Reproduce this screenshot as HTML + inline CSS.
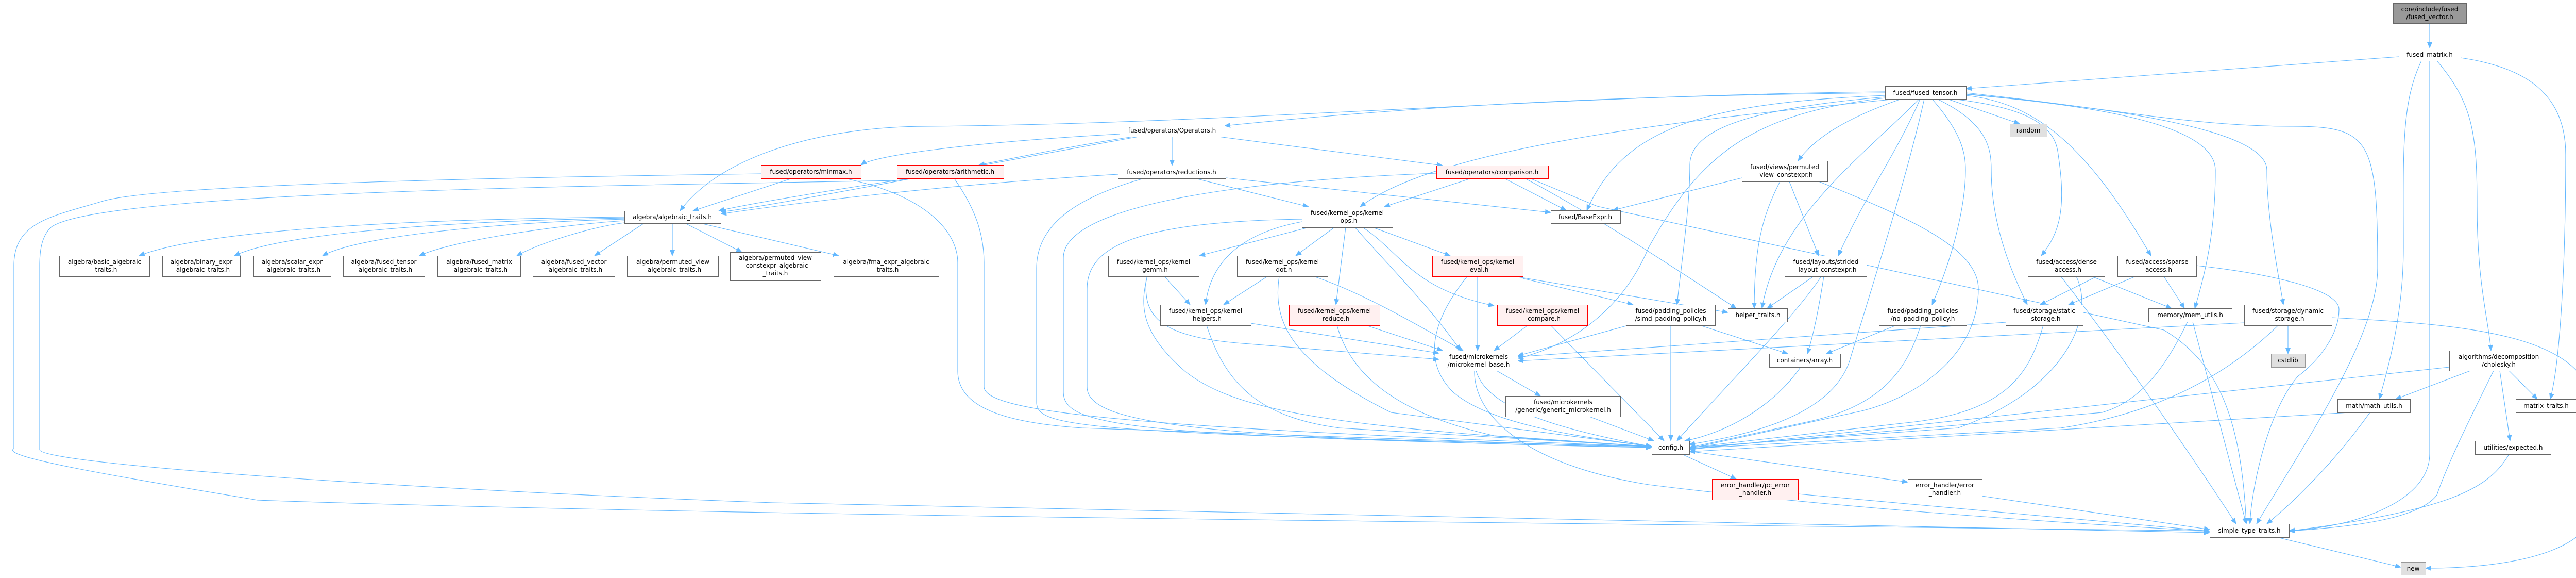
<!DOCTYPE html>
<html><head><meta charset="utf-8"><style>
html,body{margin:0;padding:0;background:#fff;}
svg{display:block}
text{font-family:"DejaVu Sans","Liberation Sans",sans-serif;font-size:12px;fill:#000;text-anchor:middle}
.n rect{fill:#fff;stroke:#666;stroke-width:1}
.r rect{fill:#fff0f0;stroke:#f00}
.g rect{fill:#e0e0e0;stroke:#999}
.e path{fill:none;stroke:#63b8ff;stroke-width:1.1;marker-end:url(#a)}
</style></head><body>
<svg width="5044" height="1121" viewBox="0 0 5044 1121" xmlns="http://www.w3.org/2000/svg">
<defs><marker id="a" markerWidth="12" markerHeight="10" refX="11" refY="5" orient="auto" markerUnits="userSpaceOnUse"><path d="M0,0 L12,5 L0,10 z" fill="#63b8ff"/></marker></defs>
<g class="e">
<path d="M1212 421 C800 425 400 445 270 496"/>
<path d="M1212 423 C900 428 550 450 455 496"/>
<path d="M1212 425 C1000 430 700 455 626 496"/>
<path d="M1212 428 C1100 435 880 465 814 496"/>
<path d="M1212 432 C1150 440 1050 470 1003 496"/>
<path d="M1250 433 L1154 496"/>
<path d="M1305 433 L1305 496"/>
<path d="M1330 433 L1440 489"/>
<path d="M1360 433 L1628 496"/>
<path d="M4716 45 L4716 93"/>
<path d="M4656 110 L3816 172"/>
<path d="M4716 118 L4716 880 C4716 980 4550 1025 4443 1029"/>
<path d="M4700 118 C4660 200 4665 300 4665 480 C4665 600 4640 700 4618 774"/>
<path d="M4730 118 C4800 200 4808 260 4808 400 C4808 550 4830 620 4835 680"/>
<path d="M4776 112 C4900 130 4980 180 4980 300 C4980 500 4970 700 4950 774"/>
<path d="M3659 180 C3200 185 2800 200 2377 244"/>
<path d="M3659 178 C3000 185 2400 240 1800 245 C1600 245 1400 300 1320 409"/>
<path d="M3680 192 C3300 230 2800 280 2640 401"/>
<path d="M3659 185 C3300 200 3150 250 3080 408"/>
<path d="M3780 192 L3920 240"/>
<path d="M3690 192 C3580 230 3520 270 3490 312"/>
<path d="M3727 192 C3680 300 3620 380 3568 496"/>
<path d="M3725 192 C3620 300 3450 420 3420 598"/>
<path d="M3659 188 C3400 210 3280 250 3280 320 C3280 400 3265 500 3255 591"/>
<path d="M3659 190 C3400 220 3300 300 3200 480 C3150 600 3050 670 2946 695"/>
<path d="M3735 192 C3700 350 3620 600 3590 700 C3550 820 3350 850 3279 862"/>
<path d="M3750 192 C3810 260 3815 300 3815 330 C3815 400 3790 500 3750 591"/>
<path d="M3760 192 C3860 240 3865 290 3865 330 C3865 430 3900 520 3935 591"/>
<path d="M3790 192 C3950 210 3990 250 3995 300 C4010 400 4000 450 3962 496"/>
<path d="M3816 185 C3950 200 4050 280 4175 496"/>
<path d="M3816 183 C4000 200 4300 230 4300 330 C4300 420 4290 500 4260 598"/>
<path d="M3816 182 C4100 210 4400 250 4400 330 C4400 420 4420 520 4432 591"/>
<path d="M3816 180 C4100 210 4250 245 4450 245 C4600 245 4615 270 4615 520 C4615 650 4480 850 4380 1016"/>
<path d="M1537 346 L1345 409"/>
<path d="M1640 346 C1800 380 1859 450 1859 510 L1859 720 C1859 790 1950 820 2100 830 L3206 868"/>
<path d="M1477 337 C900 345 300 360 200 390 C100 420 27 430 27 515 L27 870 C0 885 200 920 500 970 C1500 1005 3500 1018 4289 1030"/>
<path d="M1770 346 C1700 355 1450 395 1395 409"/>
<path d="M1852 346 C1890 400 1910 450 1910 510 L1910 750 C1910 800 2200 830 3206 866"/>
<path d="M1741 350 C1200 360 200 370 100 440 C77 460 77 500 77 515 L77 872 C77 900 800 950 1500 975 L4289 1033"/>
<path d="M2173 260 C1900 275 1700 300 1671 320"/>
<path d="M2200 265 C2100 280 2000 300 1900 320"/>
<path d="M2210 265 C1900 320 1500 400 1399 411"/>
<path d="M2275 265 L2275 321"/>
<path d="M2365 265 L2800 321"/>
<path d="M2170 338 C1800 360 1500 400 1399 415"/>
<path d="M2320 346 L2540 401"/>
<path d="M2380 345 L3010 412"/>
<path d="M2220 346 C2100 380 2012 430 2012 520 L2012 780 C2012 830 2100 840 3206 866"/>
<path d="M2855 346 L2687 401"/>
<path d="M2920 346 L3040 408"/>
<path d="M2788 336 C2400 350 2064 400 2064 500 L2064 760 C2064 830 2200 845 3206 868"/>
<path d="M2960 346 C3100 420 3250 520 3370 598"/>
<path d="M2970 346 L3100 400 L4200 640 C4300 700 4350 800 4360 1016"/>
<path d="M2540 441 L2328 496"/>
<path d="M2590 441 L2515 496"/>
<path d="M2527 430 C2420 450 2350 500 2340 591"/>
<path d="M2612 441 L2593 591"/>
<path d="M2665 441 L2815 496"/>
<path d="M2645 441 C2720 490 2740 560 2900 593"/>
<path d="M2630 441 C2700 520 2780 600 2835 680"/>
<path d="M2527 425 C2200 430 2110 480 2110 560 L2110 750 C2110 820 2300 850 3206 868"/>
<path d="M2260 536 L2310 591"/>
<path d="M2225 536 C2220 600 2230 650 2400 665 L2793 697"/>
<path d="M2227 536 C2210 600 2220 650 2300 720 C2400 800 2600 830 3206 866"/>
<path d="M2460 536 L2375 591"/>
<path d="M2550 536 C2650 570 2750 630 2840 680"/>
<path d="M2483 536 C2470 620 2500 700 2700 800 L3206 866"/>
<path d="M2428 627 L2793 685"/>
<path d="M2342 631 C2380 750 2450 810 2600 830 L3206 866"/>
<path d="M2652 631 L2800 680"/>
<path d="M2595 631 C2620 720 2700 800 2900 845 L3206 866"/>
<path d="M2868 536 L2868 680"/>
<path d="M2848 536 C2780 620 2760 700 2820 760 C2900 830 3100 850 3206 866"/>
<path d="M2940 536 L3354 606"/>
<path d="M2956 540 L3170 591"/>
<path d="M2965 631 L2900 680"/>
<path d="M3010 631 L3230 855"/>
<path d="M2905 719 L2990 768"/>
<path d="M2865 719 C2880 770 2950 820 3206 866"/>
<path d="M2862 719 C2860 800 2950 900 3200 940 C3600 990 4100 1020 4289 1030"/>
<path d="M3085 808 L3210 855"/>
<path d="M3381 345 L3130 408"/>
<path d="M3455 352 C3420 420 3405 480 3405 598"/>
<path d="M3473 352 L3530 496"/>
<path d="M3530 352 C3700 420 3840 480 3840 560 C3840 700 3700 780 3600 800 L3279 870"/>
<path d="M3520 536 L3430 598"/>
<path d="M3540 536 C3530 600 3520 650 3508 686"/>
<path d="M3535 536 C3480 620 3320 780 3255 855"/>
<path d="M3300 631 L3470 686"/>
<path d="M3243 631 L3243 855"/>
<path d="M3160 631 L2946 690"/>
<path d="M3680 631 L3545 686"/>
<path d="M3728 631 C3700 720 3650 790 3500 820 L3279 868"/>
<path d="M3966 631 C3940 720 3900 800 3700 820 L3279 868"/>
<path d="M3893 625 L2946 692"/>
<path d="M4070 536 L3960 591"/>
<path d="M4060 536 L4215 598"/>
<path d="M4000 536 C4050 600 4200 800 4340 1016"/>
<path d="M4030 536 C4070 620 4000 760 3800 830 L3279 868"/>
<path d="M4145 536 L4015 591"/>
<path d="M4200 536 L4240 598"/>
<path d="M4263 515 C4400 530 4540 560 4540 600 C4540 650 4500 700 4460 730 C4400 800 4370 950 4367 1016"/>
<path d="M4246 624 C4200 720 4150 780 4080 800 L3279 870"/>
<path d="M4256 624 L4360 1016"/>
<path d="M4422 631 C4330 720 4200 800 4000 830 L3279 870"/>
<path d="M4356 626 L2946 700"/>
<path d="M4441 631 L4441 686"/>
<path d="M4526 616 C4800 630 5030 650 5035 800 L5035 980 C5035 1060 4900 1102 4708 1102"/>
<path d="M3495 712 C3440 790 3350 840 3270 855"/>
<path d="M3265 881 L3370 929"/>
<path d="M3279 875 L3703 935"/>
<path d="M3490 958 L4289 1030"/>
<path d="M3847 962 L4289 1027"/>
<path d="M4795 719 L4650 774"/>
<path d="M4870 719 L4925 774"/>
<path d="M4852 719 L4872 855"/>
<path d="M4840 719 C4800 800 4750 900 4730 960 C4700 1000 4600 1020 4443 1030"/>
<path d="M4754 712 L3279 872"/>
<path d="M4560 800 L3279 876"/>
<path d="M4600 800 C4550 870 4480 950 4400 1016"/>
<path d="M4870 881 C4830 950 4750 990 4443 1030"/>
<path d="M4420 1042 L4660 1100"/>
</g>

<g class="n">
<g><rect x="4645.5" y="6.5" width="142" height="39" style="fill:#999;stroke:#666"/><text x="4716" y="22">core/include/fused</text><text x="4716" y="37">/fused_vector.h</text></g>
<rect x="4656.5" y="93.5" width="120" height="25"/><text x="4716" y="110">fused_matrix.h</text>
<rect x="3659.5" y="167.5" width="157" height="25"/><text x="3737" y="184">fused/fused_tensor.h</text>
<rect x="2173.5" y="240.5" width="204" height="25"/><text x="2275" y="257">fused/operators/Operators.h</text>
<rect x="2170.5" y="321.5" width="209" height="25"/><text x="2274" y="338">fused/operators/reductions.h</text>
<rect x="3381.5" y="312.5" width="166" height="40"/><text x="3464" y="328">fused/views/permuted</text><text x="3464" y="343">_view_constexpr.h</text>
<rect x="1212.5" y="409.5" width="187" height="24"/><text x="1305" y="425">algebra/algebraic_traits.h</text>
<rect x="2527.5" y="401.5" width="176" height="40"/><text x="2615" y="417">fused/kernel_ops/kernel</text><text x="2615" y="432">_ops.h</text>
<rect x="3010.5" y="408.5" width="135" height="25"/><text x="3077" y="425">fused/BaseExpr.h</text>
<rect x="115.5" y="496.5" width="175" height="40"/><text x="203" y="512">algebra/basic_algebraic</text><text x="203" y="527">_traits.h</text>
<rect x="315.5" y="496.5" width="151" height="40"/><text x="391" y="512">algebra/binary_expr</text><text x="391" y="527">_algebraic_traits.h</text>
<rect x="492.5" y="496.5" width="150" height="40"/><text x="567" y="512">algebra/scalar_expr</text><text x="567" y="527">_algebraic_traits.h</text>
<rect x="666.5" y="496.5" width="158" height="40"/><text x="745" y="512">algebra/fused_tensor</text><text x="745" y="527">_algebraic_traits.h</text>
<rect x="849.5" y="496.5" width="161" height="40"/><text x="930" y="512">algebra/fused_matrix</text><text x="930" y="527">_algebraic_traits.h</text>
<rect x="1034.5" y="496.5" width="159" height="40"/><text x="1114" y="512">algebra/fused_vector</text><text x="1114" y="527">_algebraic_traits.h</text>
<rect x="1217.5" y="496.5" width="177" height="40"/><text x="1306" y="512">algebra/permuted_view</text><text x="1306" y="527">_algebraic_traits.h</text>
<rect x="1417.5" y="489.5" width="176" height="55"/><text x="1505" y="504">algebra/permuted_view</text><text x="1505" y="519">_constexpr_algebraic</text><text x="1505" y="534">_traits.h</text>
<rect x="1618.5" y="496.5" width="204" height="40"/><text x="1720" y="512">algebra/fma_expr_algebraic</text><text x="1720" y="527">_traits.h</text>
<rect x="2151.5" y="496.5" width="176" height="40"/><text x="2239" y="512">fused/kernel_ops/kernel</text><text x="2239" y="527">_gemm.h</text>
<rect x="2401.5" y="496.5" width="176" height="40"/><text x="2489" y="512">fused/kernel_ops/kernel</text><text x="2489" y="527">_dot.h</text>
<rect x="3464.5" y="496.5" width="159" height="40"/><text x="3544" y="512">fused/layouts/strided</text><text x="3544" y="527">_layout_constexpr.h</text>
<rect x="3936.5" y="496.5" width="149" height="40"/><text x="4011" y="512">fused/access/dense</text><text x="4011" y="527">_access.h</text>
<rect x="4110.5" y="496.5" width="153" height="40"/><text x="4187" y="512">fused/access/sparse</text><text x="4187" y="527">_access.h</text>
<rect x="2252.5" y="591.5" width="176" height="40"/><text x="2340" y="607">fused/kernel_ops/kernel</text><text x="2340" y="622">_helpers.h</text>
<rect x="3156.5" y="591.5" width="173" height="40"/><text x="3243" y="607">fused/padding_policies</text><text x="3243" y="622">/simd_padding_policy.h</text>
<rect x="3354.5" y="598.5" width="115" height="26"/><text x="3412" y="615">helper_traits.h</text>
<rect x="3647.5" y="591.5" width="170" height="40"/><text x="3732" y="607">fused/padding_policies</text><text x="3732" y="622">/no_padding_policy.h</text>
<rect x="3893.5" y="591.5" width="150" height="40"/><text x="3968" y="607">fused/storage/static</text><text x="3968" y="622">_storage.h</text>
<rect x="4170.5" y="598.5" width="162" height="26"/><text x="4251" y="615">memory/mem_utils.h</text>
<rect x="4356.5" y="591.5" width="170" height="40"/><text x="4441" y="607">fused/storage/dynamic</text><text x="4441" y="622">_storage.h</text>
<rect x="2793.5" y="680.5" width="153" height="39"/><text x="2870" y="696">fused/microkernels</text><text x="2870" y="711">/microkernel_base.h</text>
<rect x="3434.5" y="686.5" width="138" height="26"/><text x="3503" y="703">containers/array.h</text>
<rect x="4754.5" y="680.5" width="191" height="39"/><text x="4850" y="696">algorithms/decomposition</text><text x="4850" y="711">/cholesky.h</text>
<rect x="2922.5" y="768.5" width="223" height="40"/><text x="3034" y="784">fused/microkernels</text><text x="3034" y="799">/generic/generic_microkernel.h</text>
<rect x="4537.5" y="774.5" width="141" height="26"/><text x="4608" y="791">math/math_utils.h</text>
<rect x="4883.5" y="774.5" width="117" height="26"/><text x="4942" y="791">matrix_traits.h</text>
<rect x="3206.5" y="855.5" width="73" height="26"/><text x="3243" y="872">config.h</text>
<rect x="4804.5" y="855.5" width="147" height="26"/><text x="4878" y="872">utilities/expected.h</text>
<rect x="3703.5" y="929.5" width="144" height="40"/><text x="3775" y="945">error_handler/error</text><text x="3775" y="960">_handler.h</text>
<rect x="4289.5" y="1016.5" width="154" height="26"/><text x="4366" y="1033">simple_type_traits.h</text>
</g>
<g class="n r">
<rect x="1477.5" y="320.5" width="194" height="26"/><text x="1574" y="337">fused/operators/minmax.h</text>
<rect x="1741.5" y="320.5" width="207" height="26"/><text x="1844" y="337">fused/operators/arithmetic.h</text>
<rect x="2788.5" y="321.5" width="217" height="25"/><text x="2896" y="338">fused/operators/comparison.h</text>
<rect x="2780.5" y="496.5" width="176" height="40"/><text x="2868" y="512">fused/kernel_ops/kernel</text><text x="2868" y="527">_eval.h</text>
<rect x="2502.5" y="591.5" width="176" height="40"/><text x="2590" y="607">fused/kernel_ops/kernel</text><text x="2590" y="622">_reduce.h</text>
<rect x="2906.5" y="591.5" width="175" height="40"/><text x="2994" y="607">fused/kernel_ops/kernel</text><text x="2994" y="622">_compare.h</text>
<rect x="3323.5" y="929.5" width="167" height="40"/><text x="3407" y="945">error_handler/pc_error</text><text x="3407" y="960">_handler.h</text>
</g>
<g class="n g">
<rect x="3901.5" y="240.5" width="72" height="25"/><text x="3937" y="257">random</text>
<rect x="4408.5" y="686.5" width="66" height="26"/><text x="4441" y="703">cstdlib</text>
<rect x="4660.5" y="1090.5" width="48" height="25"/><text x="4684" y="1107">new</text>
</g>
</svg>
</body></html>
